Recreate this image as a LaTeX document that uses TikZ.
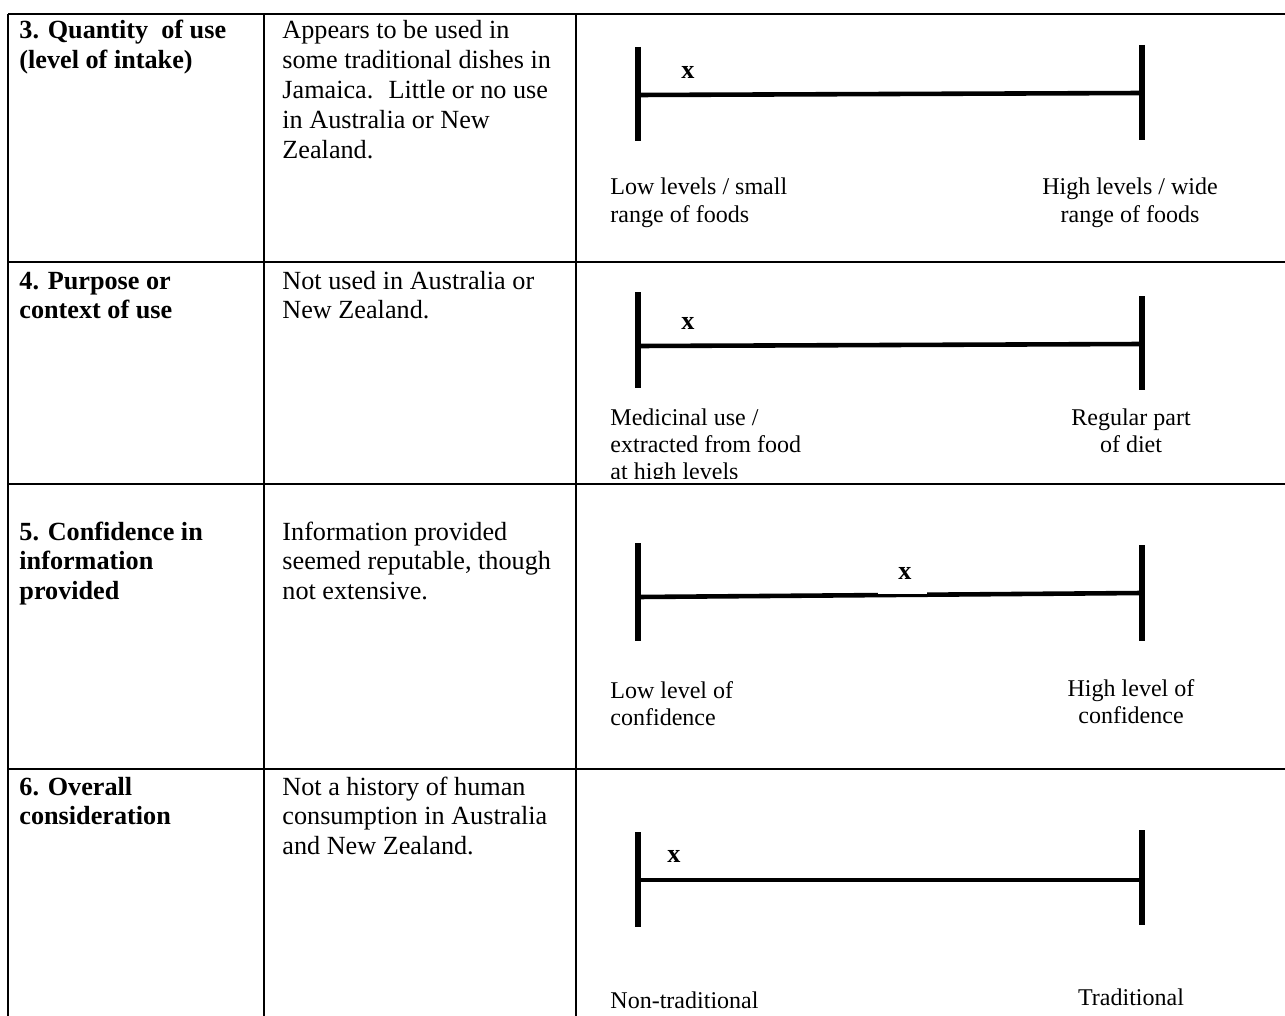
\documentclass[tikz,border=0pt]{standalone}
\usepackage{fontspec}
\setmainfont{Liberation Serif}
\newcommand\cellbox[2]{\parbox[t]{#1}{\raggedright #2}}
\newcommand\midbox[2]{\parbox[t]{#1}{\centering #2}}
\begin{document}
\begin{tikzpicture}[x=0.458pt,y=-0.458pt,
  rule/.style={line width=1.1pt},
  thinrule/.style={line width=0.5pt},
  bar/.style={line width=2.4pt},
  axis/.style={line width=2.1pt},
  head/.style={font=\fontsize{12}{13.7}\selectfont\bfseries, anchor=base west, inner sep=0pt},
  body/.style={font=\fontsize{12}{13.7}\selectfont, anchor=base west, inner sep=0pt},
  lableft/.style={font=\fontsize{11}{12.5}\selectfont, anchor=base west, inner sep=0pt},
  labright/.style={font=\fontsize{11}{12.5}\selectfont, anchor=base, inner sep=0pt},
  xsign/.style={font=\fontsize{12}{13.7}\selectfont\bfseries, inner sep=0pt}]
\useasboundingbox (0,0) rectangle (1285,1016);

% ---- table grid ----
\draw[rule] (8,14) -- (1285,14);
\draw[rule] (8,14) -- (8,1016);
\draw[rule] (264,14) -- (264,1016);
\draw[rule] (576,14) -- (576,1016);
\draw[rule] (8,262) -- (576,262);
\draw[thinrule] (576,262) -- (1285,262);
\draw[rule] (576,262) -- (591,262);
\draw[rule] (808,262) -- (1024,262);
\draw[rule] (1244,262) -- (1285,262);
\draw[rule] (8,484) -- (1285,484);
\draw[rule] (8,769) -- (1285,769);

% ---- row 3 ----
\node[head] (h3) at (19,39) {\cellbox{230pt}{3. Quantity \ of use\\(level of intake)}};
\node[body] (d3) at (282,39) {\cellbox{250pt}{Appears to be used in\\some traditional dishes in\\Jamaica. \ Little or no use\\in Australia or New\\Zealand.}};
\coordinate (a3) at (638,95); \coordinate (b3) at (1142,93);
\draw[axis] (a3) -- (b3);
\draw[bar] (638,47) -- (638,141);
\draw[bar] (1142,45) -- (1142,140);
\node[xsign] (x3) at (688,72) {x};
\node[lableft] (l3) at (610,195) {\cellbox{200pt}{Low levels / small\\range of foods}};
\node[labright] (r3) at (1130,195) {\midbox{120pt}{High levels / wide\\range of foods}};

% ---- row 4 ----
\node[head] (h4) at (19,289) {\cellbox{230pt}{4. Purpose or\\context of use}};
\node[body] (d4) at (282,289) {\cellbox{250pt}{Not used in Australia or\\New Zealand.}};
\coordinate (a4) at (638,346); \coordinate (b4) at (1142,344);
\draw[axis] (a4) -- (b4);
\draw[bar] (638,292) -- (638,388);
\draw[bar] (1142,296) -- (1142,390);
\node[xsign] (x4) at (688,323) {x};
\begin{scope}
  \clip (580,390) rectangle (900,478);
  \node[lableft] (l4) at (610,425) {\cellbox{200pt}{Medicinal use /\\extracted from food\\at high levels}};
\end{scope}
\node[labright] (r4) at (1131,425) {\midbox{120pt}{Regular part\\of diet}};

% ---- row 5 ----
\node[head] (h5) at (19,540) {\cellbox{230pt}{5. Confidence in\\information\\provided}};
\node[body] (d5) at (282,540) {\cellbox{250pt}{Information provided\\seemed reputable, though\\not extensive.}};
\coordinate (a5) at (638,597); \coordinate (b5) at (1142,593);
\draw[axis] (a5) -- (b5);
\draw[bar] (638,543) -- (638,641);
\draw[bar] (1142,545) -- (1142,641);
\fill[white] (878,560) rectangle (927,594);
\node[xsign] (x5) at (905,573) {x};
\node[lableft] (l5) at (610,698) {\cellbox{200pt}{Low level of\\confidence}};
\node[labright] (r5) at (1131,696) {\midbox{120pt}{High level of\\confidence}};

% ---- row 6 ----
\node[head] (h6) at (19,795) {\cellbox{230pt}{6. Overall\\consideration}};
\node[body] (d6) at (282,795) {\cellbox{250pt}{Not a history of human\\consumption in Australia\\and New Zealand.}};
\coordinate (a6) at (638,880); \coordinate (b6) at (1142,880);
\draw[axis] (a6) -- (b6);
\draw[bar] (638,832) -- (638,927);
\draw[bar] (1142,830) -- (1142,925);
\node[xsign] (x6) at (674,856) {x};
\node[lableft] (l6) at (610,1008) {Non-traditional};
\node[labright] (r6) at (1131,1005) {Traditional};
\end{tikzpicture}
\end{document}
